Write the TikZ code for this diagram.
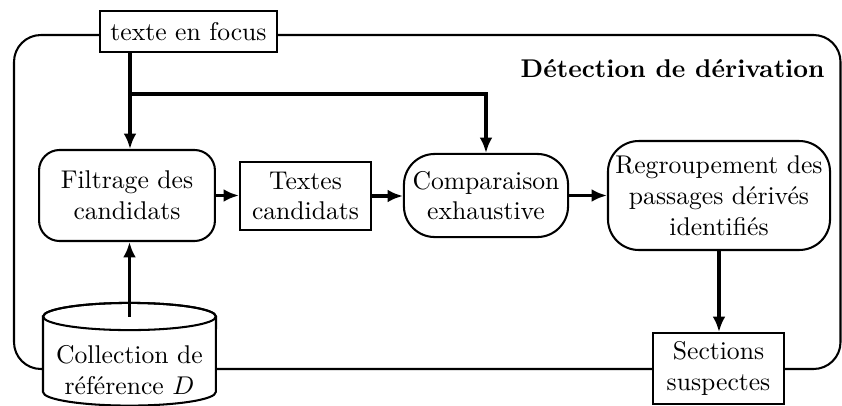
\documentclass[tikz,border=0pt]{standalone}
\usetikzlibrary{arrows.meta}
\begin{document}
\begin{tikzpicture}[x=0.39pt,y=-0.39pt,
  box/.style={draw,line width=0.8pt,fill=white,align=center,inner sep=0pt},
  arr/.style={line width=1.2pt,-{Latex[length=6pt,width=5pt]}},
  frame/.style={draw,line width=0.8pt,rounded corners=10.5pt}]
\useasboundingbox (0,0) rectangle (842,405);
% outer frame
\draw[frame] (14,35) rectangle (840.5,369);
\node[font=\bfseries,anchor=base east,inner sep=0pt] (title) at (825,77) {Détection de dérivation};
% cylinder (reference collection)
\coordinate (ct) at (129.5,316.5);
\filldraw[line width=0.8pt,fill=white] (43,316.5) -- (43,392)
  arc[start angle=180,end angle=360,x radius=33.7pt,y radius=5.3pt] -- (216,316.5)
  arc[start angle=0,end angle=180,x radius=33.7pt,y radius=5.3pt] -- cycle;
\draw[line width=0.8pt] (ct) ellipse[x radius=33.7pt,y radius=5.3pt];
\node[align=center,inner sep=0pt] (coll) at (129.5,370) {Collection de\\référence $D$};
% nodes
\node[box,minimum width=69pt,minimum height=16pt] (focus) at (188.5,31.5) {texte en focus};
\node[box,rounded corners=8pt,minimum width=68.6pt,minimum height=35.5pt] (filt) at (127,195.5) {Filtrage des\\candidats};
\node[box,minimum width=51.1pt,minimum height=26.5pt] (cand) at (305.5,196) {Textes\\candidats};
\node[box,rounded corners=12pt,minimum width=64pt,minimum height=32.4pt] (comp) at (486,195.5) {Comparaison\\exhaustive};
\node[box,rounded corners=12pt,minimum width=86.6pt,minimum height=42.5pt] (reg) at (719,195.5) {Regroupement des\\passages dérivés\\identifiés};
\node[box,minimum width=51.1pt,minimum height=27.7pt] (sect) at (718.5,368.5) {Sections\\suspectes};
% connectors
\coordinate (j) at (130,94);
\draw[arr] (focus.south -| j) -- (filt.north -| j);
\draw[arr] (j) -| (comp.north);
\draw[arr] (ct) -- (filt.south -| ct);
\draw[arr] (filt.east) -- (filt.east -| cand.west);
\draw[arr] (cand.east) -- (cand.east -| comp.west);
\draw[arr] (comp.east) -- (comp.east -| reg.west);
\draw[arr] (reg.south) -- (reg.south |- sect.north);
\end{tikzpicture}
\end{document}
